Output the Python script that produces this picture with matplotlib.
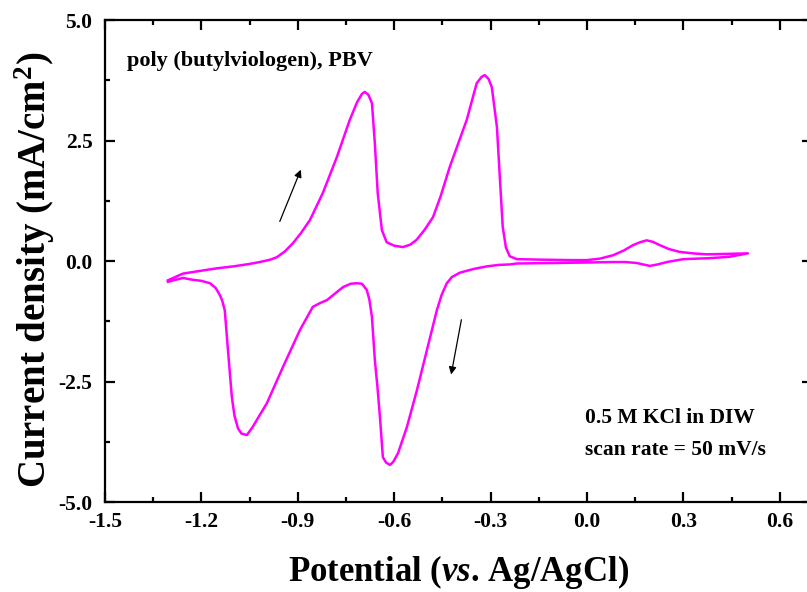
import matplotlib
matplotlib.use("Agg")
import matplotlib.pyplot as plt
from matplotlib.ticker import MultipleLocator, FormatStrFormatter

# Anodic sweep (-1.3 V -> +0.5 V)
anodic_x = [-1.304, -1.257, -1.20, -1.151, -1.10, -1.05, -1.018, -0.985, -0.965, -0.94,
            -0.915, -0.89, -0.862, -0.822, -0.778, -0.738, -0.715, -0.700, -0.691, -0.680, -0.669,
            -0.660, -0.651, -0.638, -0.623, -0.600, -0.573, -0.550, -0.530, -0.505, -0.479,
            -0.455, -0.427, -0.400, -0.374, -0.343, -0.328, -0.318, -0.306, -0.296, -0.280, -0.271, -0.262,
            -0.252, -0.240, -0.218, -0.15, -0.05, 0.0, 0.04, 0.081, 0.115, 0.143, 0.165,
            0.186, 0.205, 0.227, 0.255, 0.289, 0.33, 0.373, 0.44, 0.501]
anodic_y = [-0.40, -0.26, -0.20, -0.15, -0.11, -0.06, -0.02, 0.03, 0.08, 0.20,
            0.37, 0.58, 0.85, 1.41, 2.16, 2.93, 3.30, 3.47, 3.51, 3.45, 3.28,
            2.45, 1.41, 0.64, 0.39, 0.32, 0.29, 0.34, 0.44, 0.65, 0.91,
            1.35, 1.95, 2.45, 2.93, 3.69, 3.82, 3.86, 3.78, 3.61, 2.78, 1.74, 0.71,
            0.28, 0.10, 0.04, 0.03, 0.02, 0.02, 0.05, 0.12, 0.22, 0.33, 0.39,
            0.43, 0.40, 0.33, 0.25, 0.19, 0.16, 0.14, 0.15, 0.16]

# Cathodic sweep (+0.5 V -> -1.3 V)
cathodic_x = [0.501, 0.445, 0.382, 0.30, 0.249, 0.22, 0.196, 0.175, 0.155, 0.12,
              0.081, 0.0, -0.10, -0.218, -0.240, -0.275, -0.311, -0.35, -0.395, -0.420,
              -0.436, -0.452, -0.467, -0.498, -0.529, -0.560, -0.588, -0.603, -0.613, -0.625,
              -0.635, -0.644, -0.652, -0.660, -0.669, -0.677, -0.685, -0.700, -0.716, -0.735, -0.759,
              -0.785, -0.809, -0.830, -0.853, -0.893, -0.946, -0.996, -1.040, -1.058, -1.075,
              -1.086, -1.097, -1.105, -1.117, -1.127, -1.135, -1.142, -1.155, -1.173, -1.20, -1.226, -1.257, -1.304]
cathodic_y = [0.16, 0.09, 0.06, 0.04, -0.02, -0.07, -0.10, -0.07, -0.04, -0.02,
              -0.02, -0.03, -0.04, -0.05, -0.07, -0.08, -0.11, -0.16, -0.24, -0.33,
              -0.46, -0.70, -1.02, -1.85, -2.68, -3.44, -3.99, -4.17, -4.23, -4.18,
              -4.07, -3.24, -2.60, -2.05, -1.16, -0.80, -0.60, -0.47, -0.46, -0.47, -0.54,
              -0.68, -0.81, -0.87, -0.95, -1.43, -2.20, -2.95, -3.44, -3.61, -3.58,
              -3.47, -3.20, -2.82, -1.85, -1.02, -0.82, -0.71, -0.56, -0.46, -0.41, -0.39, -0.35, -0.43]

x_ticks = [-1.5, -1.2, -0.9, -0.6, -0.3, 0.0, 0.3, 0.6]
y_ticks = [-5.0, -2.5, 0.0, 2.5, 5.0]

plt.rcParams['font.family'] = ['Liberation Serif', 'DejaVu Serif']
plt.rcParams['font.weight'] = 'bold'
plt.rcParams['axes.unicode_minus'] = False
plt.rcParams['mathtext.fontset'] = 'custom'
plt.rcParams['mathtext.rm'] = 'Liberation Serif:bold'
plt.rcParams['mathtext.bf'] = 'Liberation Serif:bold'
plt.rcParams['mathtext.it'] = 'Liberation Serif:bold:italic'

fig = plt.figure(figsize=(8.07, 5.92), dpi=100)
ax = fig.add_axes([0.130, 0.152, 0.876, 0.814])

ax.plot(anodic_x + cathodic_x, anodic_y + cathodic_y, color='#FF00FF', lw=1.8)

ax.set_xlim(-1.5, 0.7)
ax.set_ylim(-5.0, 5.0)
ax.set_xticks(x_ticks)
ax.set_yticks(y_ticks)
ax.xaxis.set_minor_locator(MultipleLocator(0.15))
ax.yaxis.set_minor_locator(MultipleLocator(1.25))
ax.xaxis.set_major_formatter(FormatStrFormatter('%.1f'))
ax.yaxis.set_major_formatter(FormatStrFormatter('%.1f'))
ax.tick_params(which='both', direction='in', top=True, right=True, width=1.6, labelsize=15.5)
ax.tick_params(which='major', length=7)
ax.tick_params(axis='x', which='major', pad=7)
ax.tick_params(axis='y', which='major', pad=9)
ax.tick_params(which='minor', length=3.5)
for s in ax.spines.values():
    s.set_linewidth(1.6)
for lbl in ax.get_xticklabels() + ax.get_yticklabels():
    lbl.set_fontweight('bold')

ax.set_xlabel(r'Potential ($\mathit{vs}$. Ag/AgCl)', fontsize=25, fontweight='bold', labelpad=15)
ax.set_ylabel(r'Current density (mA/cm$^{2}$)', fontsize=28, fontweight='bold')
ax.yaxis.set_label_coords(-0.068, 0.481)

ax.text(-1.432, 4.15, 'poly (butylviologen), PBV', fontsize=16, fontweight='bold', va='center', ha='left')
ax.text(-0.007, -3.26, '0.5 M KCl in DIW', fontsize=15.5, fontweight='bold', va='center', ha='left')
ax.text(-0.007, -3.92, 'scan rate = 50 mV/s', fontsize=15.5, fontweight='bold', va='center', ha='left')

arrow = dict(arrowstyle='-|>', color='black', lw=0.9, mutation_scale=11)
ax.annotate('', xy=(-0.887, 1.95), xytext=(-0.959, 0.77), arrowprops=arrow)
ax.annotate('', xy=(-0.424, -2.41), xytext=(-0.389, -1.16), arrowprops=arrow)

fig.savefig('out.png', dpi=100)
